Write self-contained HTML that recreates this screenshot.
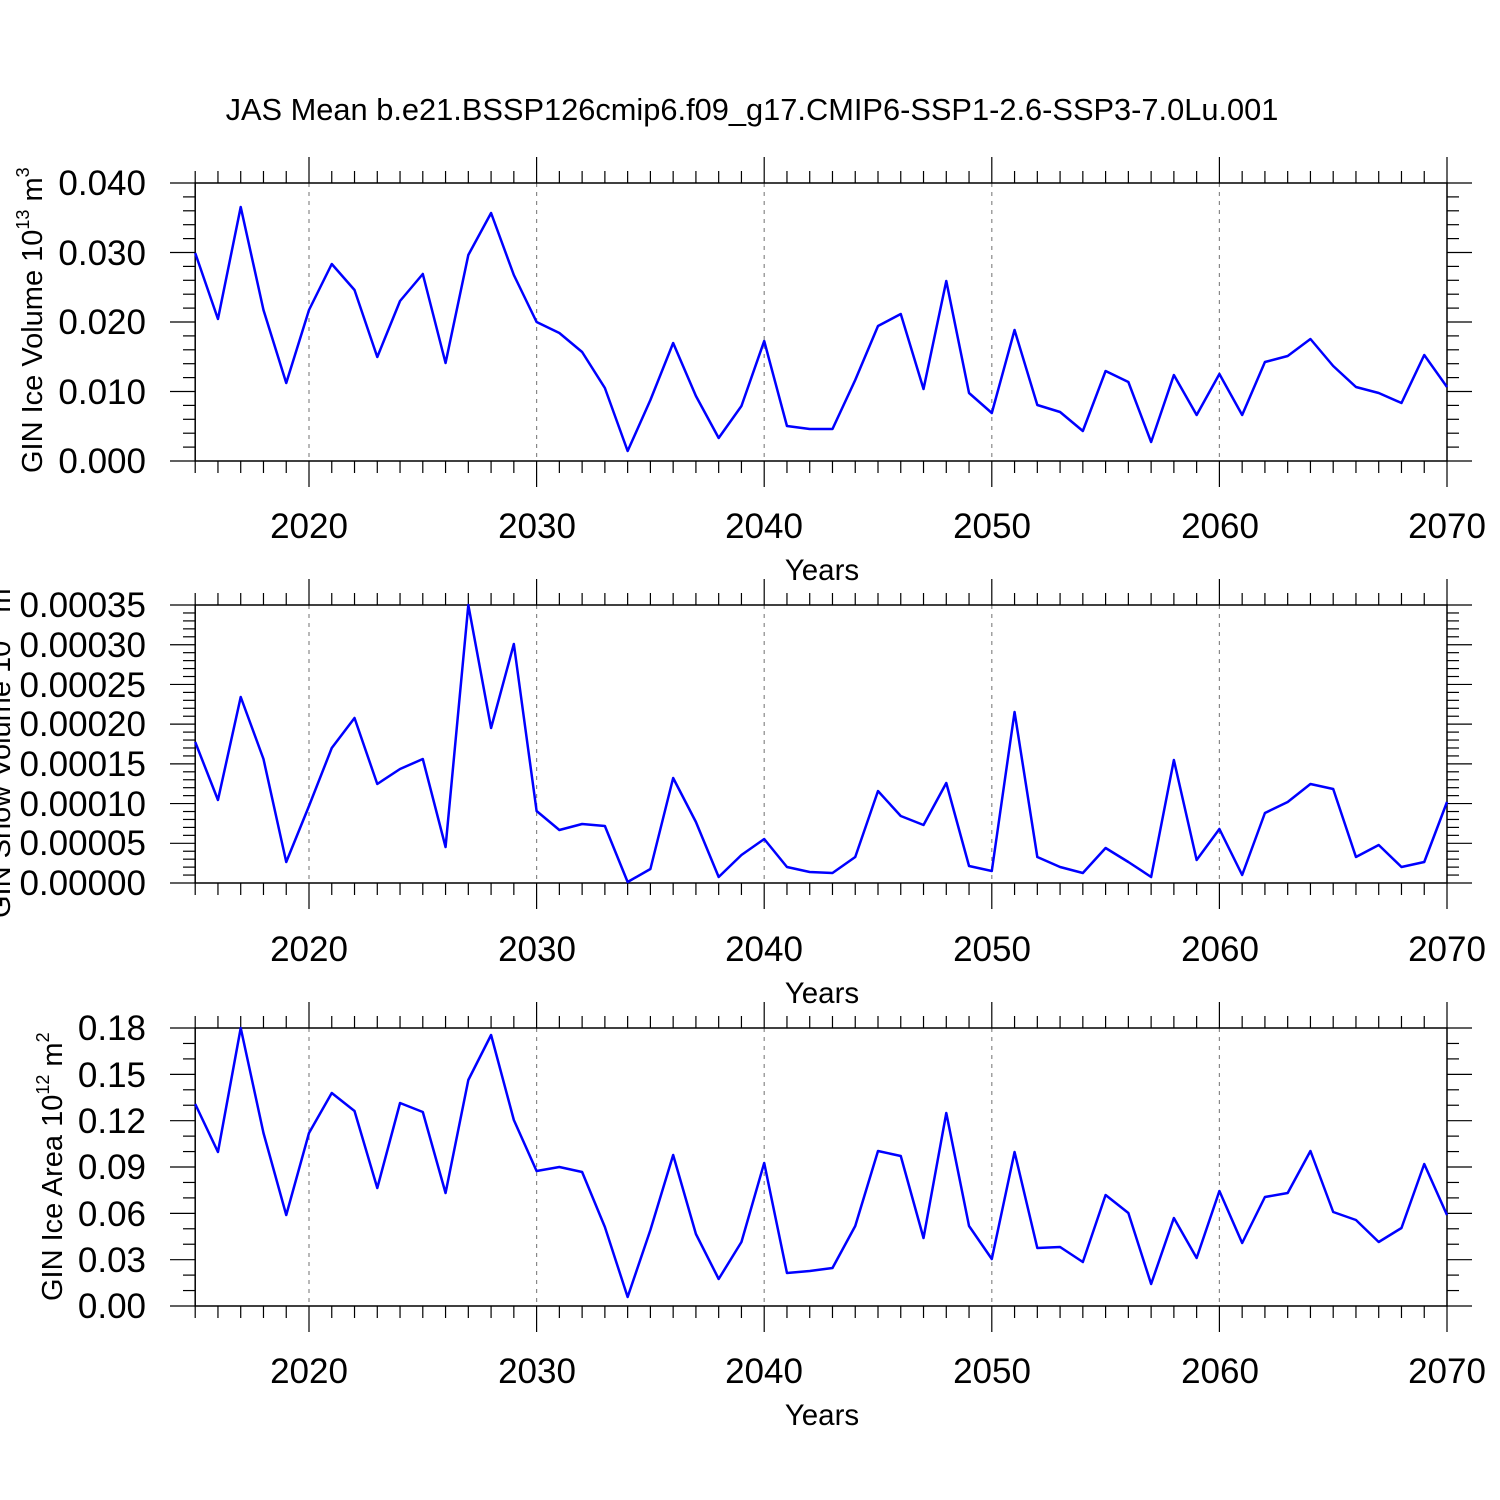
<!DOCTYPE html>
<html><head><meta charset="utf-8"><style>
html,body{margin:0;padding:0;background:#fff;}
svg{display:block;font-family:"Liberation Sans",sans-serif;}
</style></head><body>
<svg id="s" width="1500" height="1500" viewBox="0 0 1500 1500">
<rect width="1500" height="1500" fill="#fff"/>
<text x="752" y="120" font-size="30.8" text-anchor="middle">JAS Mean b.e21.BSSP126cmip6.f09_g17.CMIP6-SSP1-2.6-SSP3-7.0Lu.001</text>
<g font-size="35" text-anchor="end">
<text x="146" y="195">0.040</text><text x="146" y="265">0.030</text><text x="146" y="334">0.020</text><text x="146" y="404">0.010</text><text x="146" y="473">0.000</text>
<text x="146" y="617">0.00035</text><text x="146" y="657">0.00030</text><text x="146" y="697">0.00025</text><text x="146" y="736">0.00020</text><text x="146" y="776">0.00015</text><text x="146" y="816">0.00010</text><text x="146" y="855">0.00005</text><text x="146" y="895">0.00000</text>
<text x="146" y="1040">0.18</text><text x="146" y="1087">0.15</text><text x="146" y="1133">0.12</text><text x="146" y="1179">0.09</text><text x="146" y="1226">0.06</text><text x="146" y="1272">0.03</text><text x="146" y="1318">0.00</text>
</g>
<g font-size="35" text-anchor="middle">
<text x="309" y="538">2020</text><text x="537" y="538">2030</text><text x="764" y="538">2040</text><text x="992" y="538">2050</text><text x="1220" y="538">2060</text><text x="1447" y="538">2070</text>
<text x="309" y="961">2020</text><text x="537" y="961">2030</text><text x="764" y="961">2040</text><text x="992" y="961">2050</text><text x="1220" y="961">2060</text><text x="1447" y="961">2070</text>
<text x="309" y="1383">2020</text><text x="537" y="1383">2030</text><text x="764" y="1383">2040</text><text x="992" y="1383">2050</text><text x="1220" y="1383">2060</text><text x="1447" y="1383">2070</text>
</g>
<g font-size="29.5" text-anchor="middle">
<text x="822" y="580">Years</text><text x="822" y="1003">Years</text><text x="822" y="1425">Years</text>
</g>
<g font-size="29">
<text transform="translate(42,473) rotate(-90)">GIN Ice Volume 10<tspan dy="-13" font-size="18">13</tspan><tspan dy="13"> m</tspan><tspan dy="-13" font-size="18">3</tspan></text>
<text transform="translate(10,918) rotate(-90)">GIN Snow Volume 10<tspan dy="-13" font-size="18">13</tspan><tspan dy="13"> m</tspan><tspan dy="-13" font-size="18">3</tspan></text>
<text transform="translate(62,1301) rotate(-90)">GIN Ice Area 10<tspan dy="-13" font-size="18">12</tspan><tspan dy="13"> m</tspan><tspan dy="-13" font-size="18">2</tspan></text>
</g>
<g id="g"></g>
</svg>
<script>
var g=document.getElementById('g'),o='';
function X(y){return 195.2+(y-2015)*22.76;}
function ln(a,b,c,d,st){o+='<line x1="'+a+'" y1="'+b+'" x2="'+c+'" y2="'+d+'" stroke="'+(st||'#000')+'" stroke-width="1.2"/>';}
var P=[
{t:183,b:461,maj:69.5,nmin:5,d:[253,319,207,310,383,310,264,290,357,301,274,363,255,213,275,322,333,352,388,451,400,343,396,438,406,341,426,429,429,380,326,314,389,281,393,413,330,405,412,431,371,382,442,375,415,374,415,362,356,339,366,387,393,403,355,387]},
{t:605,b:883,maj:39.71,nmin:5,d:[742,800,697,759,862,806,748,718,784,769,759,847,605,728,644,811,830,824,826,882,869,778,822,877,855,839,867,872,873,857,791,816,825,783,866,871,712,857,867,873,848,862,877,760,860,829,875,813,802,784,789,857,845,867,862,802]},
{t:1028,b:1306,maj:46.33,nmin:3,d:[1104,1152,1028,1133,1215,1133,1093,1111,1188,1103,1112,1193,1080,1035,1120,1171,1167,1172,1227,1297,1230,1155,1234,1279,1242,1163,1273,1271,1268,1226,1151,1156,1238,1113,1226,1259,1152,1248,1247,1262,1195,1213,1284,1218,1258,1191,1243,1197,1193,1151,1212,1220,1242,1228,1164,1215]}];
P.forEach(function(p){
 for(var y=2020;y<=2060;y+=10){var x=X(y);o+='<line x1="'+x+'" y1="'+p.t+'" x2="'+x+'" y2="'+p.b+'" stroke="#888" stroke-width="1.2" stroke-dasharray="4,5"/>';}
 for(var y=2015;y<=2070;y++){var x=X(y);var L=(y%10==0)?26:12;ln(x,p.t,x,p.t-L);ln(x,p.b,x,p.b+L);}
 var n=Math.round((p.b-p.t)/p.maj),st=p.maj/p.nmin;
 for(var i=0;i<=n*p.nmin;i++){var yy=p.b-i*st;var L=(i%p.nmin==0)?25:12;ln(195,yy,195-L,yy);ln(1447,yy,1447+L,yy);}
 o+='<rect x="195.2" y="'+p.t+'" width="1251.8" height="'+(p.b-p.t)+'" fill="none" stroke="#000" stroke-width="1.5"/>';
 o+='<polyline fill="none" stroke="#00f" stroke-width="2.5" stroke-linejoin="round" points="'+p.d.map(function(v,i){return X(2015+i)+','+v;}).join(' ')+'"/>';
});
g.innerHTML=o;
</script>
</body></html>
